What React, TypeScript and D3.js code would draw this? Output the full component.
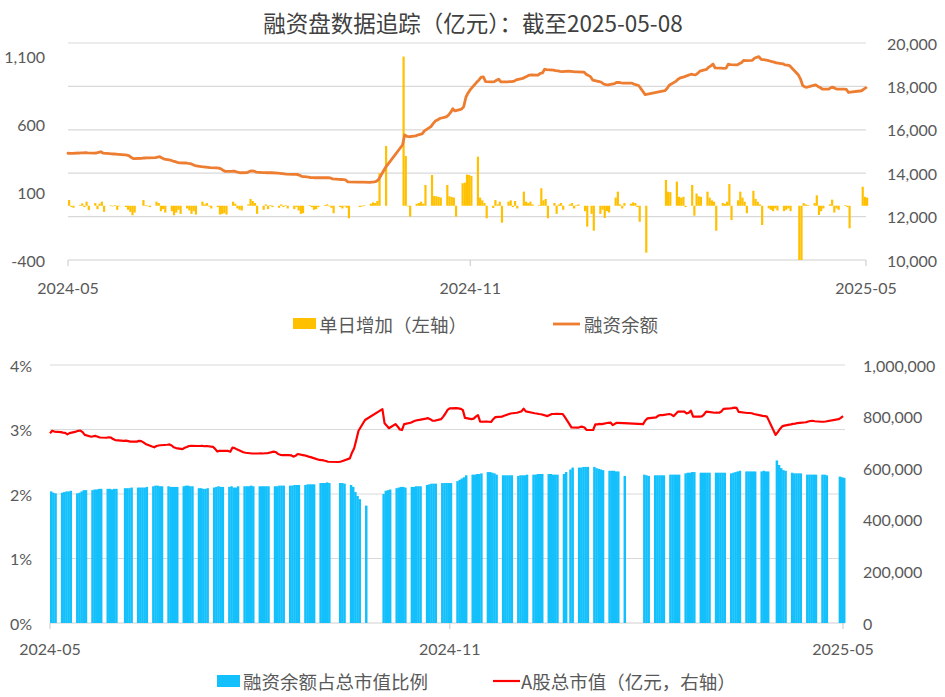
import React from "react";
import * as d3 from "d3";

// ---------- categories ----------
const MONTHS = [
  "2024-05", "2024-06", "2024-07", "2024-08", "2024-09", "2024-10", "2024-11",
  "2024-12", "2025-01", "2025-02", "2025-03", "2025-04", "2025-05",
];
const TRADING_DAYS = [
  [8, 9, 10, 13, 14, 15, 16, 17, 20, 21, 22, 23, 24, 27, 28, 29, 30, 31],
  [3, 4, 5, 6, 7, 11, 12, 13, 14, 17, 18, 19, 20, 21, 24, 25, 26, 27, 28],
  [1, 2, 3, 4, 5, 8, 9, 10, 11, 12, 15, 16, 17, 18, 19, 22, 23, 24, 25, 26, 29, 30, 31],
  [1, 2, 5, 6, 7, 8, 9, 12, 13, 14, 15, 16, 19, 20, 21, 22, 23, 26, 27, 28, 29, 30],
  [2, 3, 4, 5, 6, 9, 10, 11, 12, 13, 18, 19, 20, 23, 24, 25, 26, 27, 30],
  [8, 9, 10, 11, 14, 15, 16, 17, 18, 21, 22, 23, 24, 25, 28, 29, 30, 31],
  [1, 4, 5, 6, 7, 8, 11, 12, 13, 14, 15, 18, 19, 20, 21, 22, 25, 26, 27, 28, 29],
  [2, 3, 4, 5, 6, 9, 10, 11, 12, 13, 16, 17, 18, 19, 20, 23, 24, 25, 26, 27, 30, 31],
  [2, 3, 6, 7, 8, 9, 10, 13, 14, 15, 16, 17, 20, 21, 22, 23, 24, 27],
  [5, 6, 7, 10, 11, 12, 13, 14, 17, 18, 19, 20, 21, 24, 25, 26, 27, 28],
  [3, 4, 5, 6, 7, 10, 11, 12, 13, 14, 17, 18, 19, 20, 21, 24, 25, 26, 27, 28, 31],
  [1, 2, 3, 7, 8, 9, 10, 11, 14, 15, 16, 17, 18, 21, 22, 23, 24, 25, 28, 29, 30],
  [6, 7, 8],
];

// ---------- series: 单日增加 (亿元, left axis) ----------
const DAILY_CHANGE = [
  42, -8, -15, 5, 17, -10, 30, -32, 20, -25, 15, 30, -45, 2, 0, 3, -30, 0,
  -10, -30, -45, -70, -50, 42, 5, 0, -10, 30, 20, -40, -25, -50, -40, -70, -50, -30, -60,
  -20, -35, -60, -40, -65, 30, 10, 20, -5, -20, -10, -65, -60, -55, -65, 30, 15, -20, -30, -35, 10, 50, 35,
  20, -60, -30, 10, -25, 5, -10, -15, 10, -10, 5, -20, -25, -10, -35, -60, -55, 5, -10, -30, -25, -10,
  5, 10, 0, -15, -55, -10, -20, -5, -15, -92, -10, -5, 5, 15, 25, 20, 35, 240, 441,
  1100, 367, 0, -80, 15, 20, 30, 15, 153, 227, 72, 70, 65, 60, 153, 70, 65, 60,
  -80, 166, 170, 230, 227, 220, 362, 60, 40, 20, -92, -17, 42, 10, 30, -125, 30, 40, -10, 35, -20,
  104, 30, 20, 30, 10, 5, 129, 40, 50, -92, 20, -60, 10, 20, -30, 10, 20, -20, 5, 10, -40, -154,
  -60, -184, -60, -30, -90, -40, -50, 60, 104, 10, -20, 20, 15, 25, 20, -10, -118, -346,
  190, 104, 100, 178, 66, 60, 66, -10, 153, -73, 90, 70, 66, 104, 60, 40, 30, -184,
  20, 15, 30, 160, -105, 40, 104, 60, 30, -55, 110, 50, 30, 10, -142, -20, -30, -40, -20, -35, -40,
  -30, -20, -40, -400, -400, 20, 10, 5, 20, 77, -68, -40, -20, 10, 45, -50, -20, -30, 5, -10, -166,
  140, 66, 60,
];

// ---------- series: 融资余额 (亿元, right axis) ----------
const MARGIN_BALANCE = [
  14920, 14910, 14915, 14930, 14940, 14935, 14950, 14940, 14925, 14930, 14960, 14990, 14930, 14900, 14890, 14885, 14880, 14870,
  14840, 14830, 14800, 14720, 14670, 14690, 14700, 14710, 14705, 14720, 14740, 14760, 14700, 14650, 14600, 14560, 14530, 14500, 14480,
  14470, 14450, 14440, 14400, 14350, 14300, 14290, 14280, 14270, 14260, 14250, 14230, 14200, 14130, 14080, 14090, 14100, 14060, 14040, 14020, 14030, 14080, 14110,
  14100, 14050, 14030, 14030, 14020, 14025, 14020, 14000, 13995, 13985, 13970, 13960, 13950, 13945, 13940, 13900, 13850, 13820, 13800, 13795, 13790, 13790,
  13790, 13795, 13790, 13780, 13740, 13720, 13710, 13700, 13690, 13600, 13590, 13585, 13585, 13580, 13590, 13600, 13620, 13700, 14230,
  15300, 15760, 15700, 15680, 15720, 15760, 15790, 15810, 15950, 16150, 16280, 16400, 16450, 16520, 16600, 16680, 16800, 16970,
  16870, 16950, 17070, 17500, 17700, 17850, 18200, 18300, 18430, 18440, 18220, 18210, 18220, 18280, 18330, 18210, 18210, 18220, 18220, 18240, 18300,
  18370, 18420, 18470, 18520, 18530, 18520, 18600, 18620, 18790, 18770, 18750, 18730, 18720, 18690, 18680, 18700, 18690, 18680, 18670, 18670, 18660, 18560,
  18450, 18290, 18220, 18190, 18110, 18080, 18065, 18130, 18190, 18180, 18160, 18150, 18150, 18150, 18100, 18070, 18040, 17620,
  17800, 17900, 18050, 18230, 18330, 18390, 18420, 18450, 18560, 18540, 18530, 18600, 18700, 18780, 18880, 18950, 19030, 18850,
  18840, 18835, 18840, 19030, 19000, 18990, 19040, 19090, 19200, 19190, 19200, 19300, 19340, 19370, 19250, 19200, 19170, 19140, 19120, 19080, 19040,
  18990, 18980, 18960, 18540, 18350, 18050, 17980, 17960, 18050, 18070, 18000, 17950, 17880, 17870, 17950, 17960, 17900, 17870, 17870, 17860, 17720,
  17800, 17870, 17940,
];

// ---------- series: 融资余额占总市值比例 (%) ----------
const MARGIN_RATIO = [
  2.04, 2.02, 2.01, 2.02, 2.03, 2.04, 2.04, 2.05, 2.01, 2.02, 2.04, 2.06, 2.06, 2.06, 2.07, 2.07, 2.08, 2.08,
  2.08, 2.08, 2.07, 2.08, 2.08, 2.09, 2.09, 2.09, 2.10, 2.10, 2.10, 2.10, 2.10, 2.11, 2.12, 2.13, 2.13, 2.12, 2.12,
  2.12, 2.11, 2.11, 2.11, 2.11, 2.12, 2.13, 2.13, 2.12, 2.12, 2.09, 2.09, 2.08, 2.08, 2.09, 2.10, 2.11, 2.12, 2.11, 2.11, 2.11, 2.12, 2.10,
  2.10, 2.12, 2.12, 2.12, 2.12, 2.13, 2.12, 2.12, 2.12, 2.12, 2.12, 2.12, 2.12, 2.12, 2.13, 2.13, 2.13, 2.13, 2.13, 2.14, 2.14, 2.14,
  2.14, 2.15, 2.15, 2.15, 2.15, 2.17, 2.17, 2.17, 2.18, 2.17, 2.17, 2.17, 2.16, 2.14, 2.11, 2.03, 1.97, 1.92, 1.82,
  2.00, 2.05, 2.06, 2.07, 2.09, 2.10, 2.11, 2.11, 2.10, 2.11, 2.11, 2.12, 2.12, 2.12, 2.14, 2.15, 2.16, 2.16,
  2.16, 2.17, 2.17, 2.17, 2.17, 2.17, 2.20, 2.22, 2.24, 2.26, 2.29, 2.30, 2.30, 2.31, 2.31, 2.32, 2.34, 2.34, 2.33, 2.32, 2.30,
  2.29, 2.29, 2.29, 2.29, 2.29, 2.28, 2.29, 2.29, 2.29, 2.30, 2.30, 2.30, 2.31, 2.31, 2.31, 2.31, 2.31, 2.30, 2.30, 2.30, 2.31, 2.34,
  2.38, 2.41, 2.41, 2.41, 2.42, 2.42, 2.42, 2.42, 2.40, 2.39, 2.38, 2.37, 2.36, 2.36, 2.36, 2.35, 2.35, 2.28,
  2.30, 2.29, 2.28, 2.29, 2.29, 2.29, 2.29, 2.29, 2.30, 2.30, 2.30, 2.30, 2.30, 2.32, 2.33, 2.33, 2.34, 2.34,
  2.33, 2.33, 2.33, 2.33, 2.33, 2.33, 2.33, 2.33, 2.33, 2.33, 2.32, 2.33, 2.34, 2.35, 2.36, 2.35, 2.35, 2.35, 2.35, 2.35, 2.35,
  2.36, 2.35, 2.35, 2.52, 2.45, 2.40, 2.37, 2.36, 2.33, 2.32, 2.32, 2.32, 2.32, 2.30, 2.30, 2.30, 2.30, 2.30, 2.30, 2.30, 2.29,
  2.27, 2.26, 2.25,
];

// ---------- series: A股总市值 (亿元, right axis) ----------
const MARKET_CAP = [
  735000, 745000, 742000, 740000, 738000, 737000, 731000, 736000, 742000, 745000, 746000, 740000, 729000, 722000, 724000, 725000, 722000, 719000,
  718000, 720000, 719000, 713000, 709000, 706000, 707000, 705000, 703000, 703000, 706000, 705000, 700000, 694000, 684000, 681000, 686000, 688000, 689000,
  691000, 692000, 688000, 681000, 678000, 674000, 679000, 682000, 686000, 687000, 686000, 686000, 687000, 685000, 686000, 683000, 675000, 665000, 667000, 667000, 667000, 664000, 680000,
  678000, 673000, 662000, 660000, 659000, 658000, 657000, 657000, 658000, 657000, 658000, 658000, 664000, 662000, 655000, 652000, 651000, 651000, 650000, 645000, 648000, 655000,
  650000, 648000, 645000, 643000, 640000, 632000, 631000, 630000, 628000, 625000, 624000, 626000, 629000, 638000, 660000, 677000, 710000, 745000, 787000,
  829000, 774000, 765000, 755000, 771000, 762000, 750000, 748000, 771000, 776000, 780000, 784000, 786000, 787000, 792000, 794000, 790000, 784000,
  784000, 790000, 800000, 812000, 826000, 832000, 833000, 832000, 830000, 826000, 795000, 790000, 792000, 800000, 806000, 780000, 781000, 780000, 779000, 790000, 798000,
  800000, 803000, 806000, 809000, 812000, 815000, 818000, 820000, 831000, 820000, 815000, 813000, 812000, 810000, 809000, 802000, 806000, 810000, 810000, 811000, 810000, 798000,
  772000, 758000, 757000, 760000, 761000, 758000, 748000, 748000, 770000, 770000, 772000, 771000, 776000, 777000, 767000, 772000, 776000, 775000,
  771000, 785000, 793000, 796000, 797000, 804000, 806000, 806000, 810000, 808000, 802000, 810000, 819000, 819000, 812000, 815000, 823000, 800000,
  800000, 801000, 808000, 819000, 818000, 815000, 816000, 815000, 820000, 830000, 832000, 833000, 835000, 834000, 818000, 815000, 814000, 814000, 813000, 810000, 805000,
  803000, 802000, 800000, 729000, 740000, 752000, 762000, 765000, 770000, 772000, 773000, 775000, 776000, 778000, 781000, 783000, 784000, 782000, 780000, 780000, 781000,
  790000, 795000, 802000,
];

// ---------- axes ----------
const TOP_LEFT_TICKS = [-400, 100, 600, 1100];
const TOP_RIGHT_TICKS = [10000, 12000, 14000, 16000, 18000, 20000];
const BOTTOM_LEFT_TICKS = [0, 1, 2, 3, 4];
const BOTTOM_RIGHT_TICKS = [0, 200000, 400000, 600000, 800000, 1000000];
const X_TICK_DATES = ["2024-05-08", "2024-11-08", "2025-05-08"];
const X_TICK_LABELS = ["2024-05", "2024-11", "2025-05"];

const TITLE = "融资盘数据追踪（亿元）：截至2025-05-08";

const parse = (s: string) => {
  const [y, m, d] = s.split("-").map(Number);
  return new Date(y, m - 1, d);
};

const NUM_FONT = "Lato, 'Noto Sans', sans-serif";
const CJK_FONT = "'Noto Sans CJK SC', 'Noto Sans', sans-serif";
const AXIS_COLOR = "#595959";
const GRID = "#d9d9d9";

export default function App() {
  const dates: Date[] = MONTHS.flatMap((m, i) =>
    TRADING_DAYS[i].map((d) => parse(`${m}-${d}`))
  );
  const domain: [Date, Date] = [parse("2024-05-08"), parse("2025-05-08")];
  const tickDates = X_TICK_DATES.map(parse);

  // top chart
  const xT = d3.scaleTime().domain(domain).range([68, 866]);
  const yTL = d3.scaleLinear().domain([-400, 1200]).range([260, 43]);
  const yTR = d3.scaleLinear().domain([10000, 20000]).range([260, 43]);
  const slotT = xT(d3.timeDay.offset(domain[0], 1)) - xT(domain[0]);

  // bottom chart
  const xB = d3.scaleTime().domain(domain).range([50, 843]);
  const yBL = d3.scaleLinear().domain([0, 4]).range([623, 365]);
  const yBR = d3.scaleLinear().domain([0, 1000000]).range([623, 365]);
  const slotB = xB(d3.timeDay.offset(domain[0], 1)) - xB(domain[0]);

  const balanceLine = d3
    .line<number>()
    .x((_, i) => xT(dates[i]))
    .y((v) => yTR(v))(MARGIN_BALANCE);
  const capLine = d3
    .line<number>()
    .x((_, i) => xB(dates[i]))
    .y((v) => yBR(v))(MARKET_CAP);

  const fmt = (v: number) => d3.format(",")(v).replace("\u2212", "-");

  return (
    <div style={{ position: "fixed", left: 0, top: 0 }}>
      <svg width={945} height={697} style={{ display: "block", background: "#fff" }}>
        <text
          x={473}
          y={22}
          textAnchor="middle"
          dominantBaseline="central"
          fontFamily={CJK_FONT}
          fontSize={22.5}
          fill="#404040"
        >
          {TITLE}
        </text>

        {/* ================= TOP CHART ================= */}
        {TOP_RIGHT_TICKS.map((t) => (
          <line
            key={"tg" + t}
            x1={68}
            x2={866}
            y1={yTR(t)}
            y2={yTR(t)}
            stroke={t === 10000 ? "#d0d0d0" : GRID}
            strokeWidth={1.2}
          />
        ))}
        {tickDates.map((d, i) => (
          <line key={"tt" + i} x1={xT(d)} x2={xT(d)} y1={260} y2={266} stroke="#d0d0d0" strokeWidth={1.2} />
        ))}
        <g>
          {DAILY_CHANGE.map((v, i) => {
            const y0 = yTL(0);
            const y1 = yTL(Math.max(-400, v));
            return (
              <rect
                key={"tb" + i}
                x={xT(dates[i])}
                width={slotT}
                y={Math.min(y0, y1)}
                height={Math.max(0.6, Math.abs(y1 - y0))}
                fill="#FFC000"
              />
            );
          })}
        </g>
        <path d={balanceLine || ""} fill="none" stroke="#ED7D31" strokeWidth={2.8} strokeLinejoin="round" strokeLinecap="round" />

        {TOP_LEFT_TICKS.map((t) => (
          <text key={"tl" + t} x={45} y={yTL(t)} textAnchor="end" dominantBaseline="central" fontFamily={NUM_FONT} fontSize={16} fill={AXIS_COLOR}>
            {fmt(t)}
          </text>
        ))}
        {TOP_RIGHT_TICKS.map((t) => (
          <text key={"tr" + t} x={887} y={yTR(t)} textAnchor="start" dominantBaseline="central" fontFamily={NUM_FONT} fontSize={16} fill={AXIS_COLOR}>
            {fmt(t)}
          </text>
        ))}
        {tickDates.map((d, i) => (
          <text key={"tx" + i} x={xT(d)} y={287} textAnchor="middle" dominantBaseline="central" fontFamily={NUM_FONT} fontSize={16} fill={AXIS_COLOR}>
            {X_TICK_LABELS[i]}
          </text>
        ))}

        {/* top legend */}
        <rect x={293} y={318} width={23} height={11} fill="#FFC000" />
        <text x={319} y={324} dominantBaseline="central" fontFamily={CJK_FONT} fontSize={18.5} fill={AXIS_COLOR}>
          单日增加（左轴）
        </text>
        <line x1={553} x2={580} y1={324} y2={324} stroke="#ED7D31" strokeWidth={2.8} />
        <text x={584} y={324} dominantBaseline="central" fontFamily={CJK_FONT} fontSize={18.5} fill={AXIS_COLOR}>
          融资余额
        </text>

        {/* ================= BOTTOM CHART ================= */}
        {BOTTOM_LEFT_TICKS.map((t) => (
          <line
            key={"bg" + t}
            x1={50}
            x2={845}
            y1={yBL(t)}
            y2={yBL(t)}
            stroke={t === 0 ? "#d0d0d0" : GRID}
            strokeWidth={1.2}
          />
        ))}
        {tickDates.map((d, i) => (
          <line key={"bt" + i} x1={xB(d)} x2={xB(d)} y1={623} y2={629} stroke="#d0d0d0" strokeWidth={1.2} />
        ))}
        <g>
          {MARGIN_RATIO.map((v, i) => (
            <rect
              key={"bb" + i}
              x={xB(dates[i])}
              width={slotB + 0.3}
              y={yBL(v)}
              height={yBL(0) - yBL(v)}
              fill="#14C0FC"
            />
          ))}
        </g>
        <path d={capLine || ""} fill="none" stroke="#FF0000" strokeWidth={2.2} strokeLinejoin="round" />

        {BOTTOM_LEFT_TICKS.map((t) => (
          <text key={"bl" + t} x={32} y={yBL(t)} textAnchor="end" dominantBaseline="central" fontFamily={NUM_FONT} fontSize={16} fill={AXIS_COLOR}>
            {t + "%"}
          </text>
        ))}
        {BOTTOM_RIGHT_TICKS.map((t) => (
          <text key={"br" + t} x={863} y={yBR(t)} textAnchor="start" dominantBaseline="central" fontFamily={NUM_FONT} fontSize={16} fill={AXIS_COLOR}>
            {fmt(t)}
          </text>
        ))}
        {tickDates.map((d, i) => (
          <text key={"bx" + i} x={xB(d)} y={648} textAnchor="middle" dominantBaseline="central" fontFamily={NUM_FONT} fontSize={16} fill={AXIS_COLOR}>
            {X_TICK_LABELS[i]}
          </text>
        ))}

        {/* bottom legend */}
        <rect x={217} y={675} width={23} height={12} fill="#14C0FC" />
        <text x={243} y={681} dominantBaseline="central" fontFamily={CJK_FONT} fontSize={18.5} fill={AXIS_COLOR}>
          融资余额占总市值比例
        </text>
        <line x1={493} x2={520} y1={681} y2={681} stroke="#FF0000" strokeWidth={2.2} />
        <text x={521} y={681} dominantBaseline="central" fontFamily={CJK_FONT} fontSize={18.5} fill={AXIS_COLOR}>
          A股总市值（亿元，右轴）
        </text>
      </svg>
    </div>
  );
}
